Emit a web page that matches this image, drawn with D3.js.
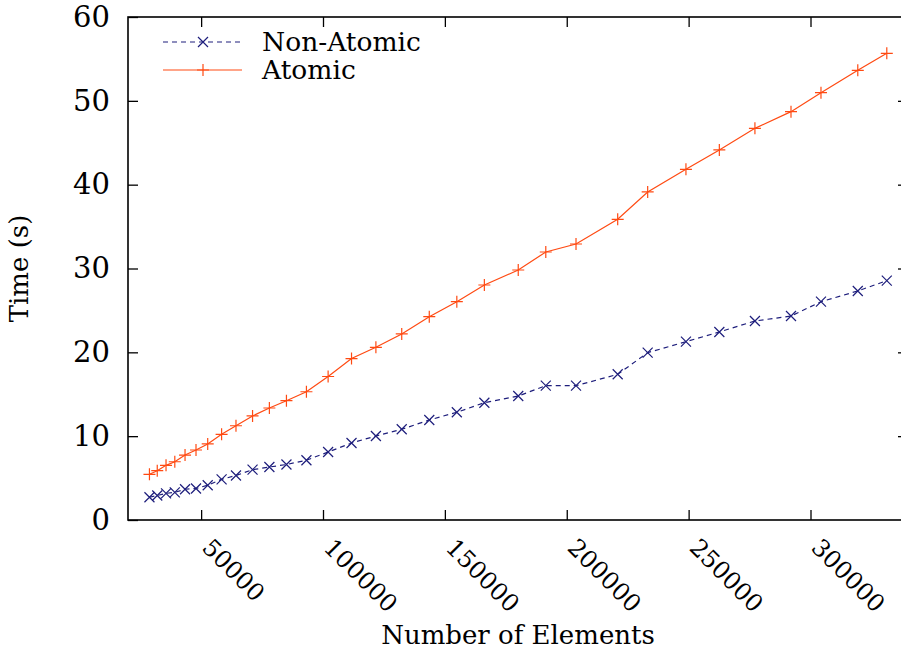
<!DOCTYPE html>
<html>
<head>
<meta charset="utf-8">
<script src="https://cdn.jsdelivr.net/npm/d3@7"></script>
<style>
  body { margin: 0; background: #fff; }
  text { font-family: "DejaVu Serif", serif; fill: #000; }
</style>
</head>
<body>
<div id="chart"></div>
<script>
// number of elements (x)
var elements = [28800, 32000, 35600, 39200, 43400, 47900, 52700, 58400, 64300, 71100,
    78000, 85000, 93200, 102100, 111700, 121700, 132300, 143600, 154900, 166200,
    180100, 191400, 203800, 220900, 233200, 248900, 262600, 277200, 292000, 304300,
    319400, 331300];

// time in seconds
var nonAtomic = [2.71, 2.92, 3.18, 3.30, 3.67, 3.76, 4.15, 4.85, 5.31, 6.0,
    6.32, 6.62, 7.13, 8.11, 9.18, 10.02, 10.82, 11.93, 12.85, 13.99,
    14.79, 16.02, 16.02, 17.38, 19.96, 21.27, 22.43, 23.74, 24.33, 26.04,
    27.32, 28.55];
var atomic = [5.45, 5.88, 6.52, 6.95, 7.75, 8.35, 9.07, 10.22, 11.24, 12.41,
    13.36, 14.23, 15.30, 17.12, 19.26, 20.60, 22.19, 24.25, 26.04, 28.03,
    29.82, 31.97, 32.92, 35.87, 39.13, 41.83, 44.14, 46.72, 48.71, 50.97,
    53.64, 55.67];

var xTicks = [50000, 100000, 150000, 200000, 250000, 300000];
var yTicks = [0, 10, 20, 30, 40, 50, 60];
var seriesNames = ["Non-Atomic", "Atomic"];

var margin = {top: 17, right: -7, bottom: 134, left: 128},
    width = 901 - margin.left - margin.right,
    height = 654 - margin.top - margin.bottom;

var svg = d3.select("#chart")
    .append("svg")
    .attr("width", 901)
    .attr("height", 654)
    .append("g")
    .attr("transform", "translate(" + margin.left + "," + margin.top + ")");

var x = d3.scaleLinear().domain([20000, 340000]).range([0, width]);
var y = d3.scaleLinear().domain([0, 60]).range([height, 0]);

// axes, ticks pointing inwards
var yAxis = svg.append("g")
    .call(d3.axisLeft(y).tickValues(yTicks).tickSizeInner(-10).tickSizeOuter(0).tickPadding(18));
yAxis.selectAll("text").style("font-size", "29px");

svg.append("g")
    .attr("transform", "translate(" + width + ",0)")
    .call(d3.axisRight(y).tickValues(yTicks.slice(1, -1)).tickSizeInner(-10).tickSizeOuter(0).tickFormat(""));

var xAxis = svg.append("g")
    .attr("transform", "translate(0," + height + ")")
    .call(d3.axisBottom(x).tickValues(xTicks).tickSizeInner(-10).tickSizeOuter(0).tickFormat(d3.format("d")));
xAxis.selectAll("text")
    .style("font-size", "24px")
    .attr("text-anchor", "start")
    .attr("y", 0)
    .attr("dy", "0.35em")
    .attr("transform", "translate(5,23) rotate(45)");

svg.append("g")
    .call(d3.axisTop(x).tickValues(xTicks).tickSizeInner(-10).tickSizeOuter(0).tickFormat(""));

svg.selectAll(".domain").remove();
svg.selectAll(".tick line").attr("stroke", "#000").attr("stroke-width", 1.3);

// frame
svg.append("rect")
    .attr("width", width)
    .attr("height", height)
    .attr("fill", "none")
    .attr("stroke", "#000")
    .attr("stroke-width", 1.6);

// lines
var series = [
    {name: seriesNames[0], values: nonAtomic, color: "#1e1e7c", dash: "5,4", mark: "x"},
    {name: seriesNames[1], values: atomic, color: "#ff4a12", dash: null, mark: "+"}
];

var line = d3.line()
    .x(function(d) { return x(d[0]); })
    .y(function(d) { return y(d[1]); });

function markPath(kind, r) {
    if (kind === "x") return "M" + (-r) + "," + (-r) + "L" + r + "," + r + "M" + (-r) + "," + r + "L" + r + "," + (-r);
    return "M" + (-r) + ",0L" + r + ",0M0," + (-r) + "L0," + r;
}

series.forEach(function(s) {
    var pts = elements.map(function(e, i) { return [e, s.values[i]]; });
    svg.append("path")
        .datum(pts)
        .attr("d", line)
        .attr("fill", "none")
        .attr("stroke", s.color)
        .attr("stroke-width", 1.2)
        .attr("stroke-dasharray", s.dash);
    svg.selectAll(null)
        .data(pts)
        .enter()
        .append("path")
        .attr("transform", function(d) { return "translate(" + x(d[0]) + "," + y(d[1]) + ")"; })
        .attr("d", markPath(s.mark, s.mark === "x" ? 5 : 6))
        .attr("stroke", s.color)
        .attr("stroke-width", 1.2);
});

// legend
var legend = svg.append("g").attr("transform", "translate(35,25)");
series.forEach(function(s, i) {
    var g = legend.append("g").attr("transform", "translate(0," + (i * 28) + ")");
    g.append("line")
        .attr("x1", 0).attr("x2", 79)
        .attr("stroke", s.color)
        .attr("stroke-width", 1.2)
        .attr("stroke-dasharray", s.dash);
    g.append("path")
        .attr("transform", "translate(40,0)")
        .attr("d", markPath(s.mark, s.mark === "x" ? 5 : 6))
        .attr("stroke", s.color)
        .attr("stroke-width", 1.2);
    g.append("text")
        .attr("x", 99)
        .attr("dy", "0.35em")
        .style("font-size", "26.5px")
        .text(s.name);
});

// axis titles
svg.append("text")
    .attr("transform", "translate(-100," + (height / 2) + ") rotate(-90)")
    .attr("text-anchor", "middle")
    .style("font-size", "26px")
    .text("Time (s)");

svg.append("text")
    .attr("x", 390)
    .attr("y", 627)
    .attr("text-anchor", "middle")
    .style("font-size", "26px")
    .text("Number of Elements");
</script>
</body>
</html>
